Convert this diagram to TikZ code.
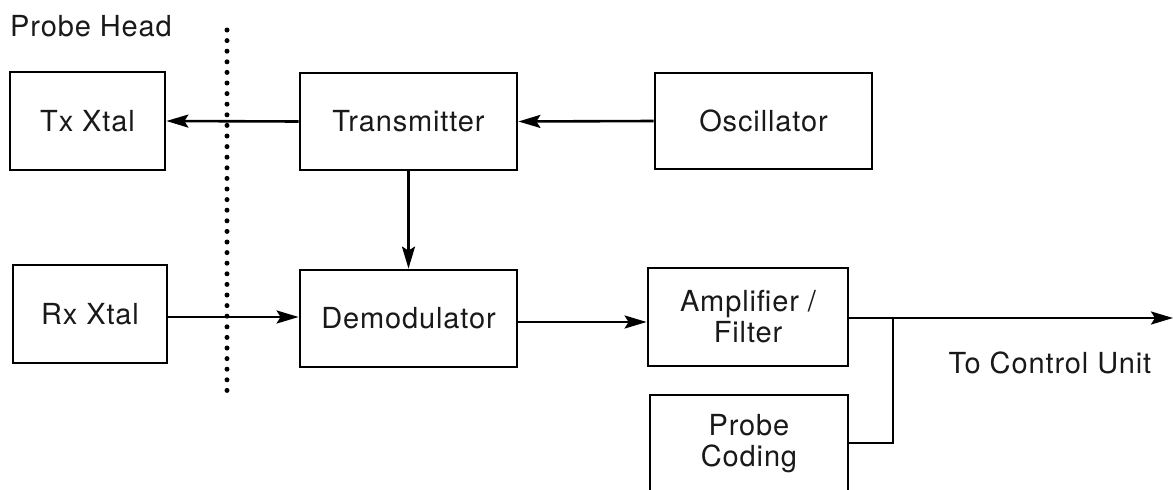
\documentclass[tikz,border=0pt]{standalone}
\usepackage{fontspec}
\setmainfont[LetterSpace=3]{TeX Gyre Heros}
\usetikzlibrary{arrows.meta}
\begin{document}
\begin{tikzpicture}[x=1pt,y=-1pt,
  blk/.style={draw, line width=2.8pt, rectangle, inner sep=0pt, align=center,
    font=\fontsize{29}{31}\selectfont, text=black!90},
  conn/.style={line width=2.6pt, -{Stealth[length=22pt,width=13pt,inset=4pt]}},
  wire/.style={line width=2.6pt},
  lbl/.style={font=\fontsize{29}{31}\selectfont, text=black!90, inner sep=0pt}]
\useasboundingbox (0,0) rectangle (1173,490);
\node[blk, minimum width=155, minimum height=98] (tx) at (87.5,121) {Tx Xtal};
\node[blk, minimum width=217, minimum height=97] (trans) at (408.5,121.5) {Transmitter};
\node[blk, minimum width=217, minimum height=96] (osc) at (763.5,121) {Oscillator};
\node[blk, minimum width=154, minimum height=98] (rx) at (90,314) {Rx Xtal};
\node[blk, minimum width=217, minimum height=97] (demod) at (408.5,318.5) {Demodulator};
\node[blk, minimum width=200, minimum height=98] (amp) at (748,317) {Amplifier /\\Filter};
\node[blk, minimum width=198, minimum height=98] (code) at (749,444) {Probe\\Coding};
\node[lbl, anchor=west] (head) at (10,26) {Probe Head};
\node[lbl] (ctrl) at (1050,363) {To Control Unit};
\coordinate (dtop) at (227,30);
\coordinate (dbot) at (227,391);
\draw[line width=5pt, line cap=round, dash pattern=on 0pt off 10.6pt] (dtop) -- (dbot);
\draw[conn] (trans.west) -- (tx.east);
\draw[conn] (osc.west) -- (trans.east);
\draw[conn] (trans.south) -- (demod.north);
\draw[conn] (rx.east |- 0,317) -- (demod.west |- 0,317);
\draw[conn] (demod.east |- 0,322) -- (amp.west |- 0,322);
\coordinate (junc) at (893,318);
\coordinate (outend) at (1173,318);
\draw[conn] (amp.east |- junc) -- (outend);
\draw[wire] (code.east |- 0,443) -| (junc);
\end{tikzpicture}
\end{document}
